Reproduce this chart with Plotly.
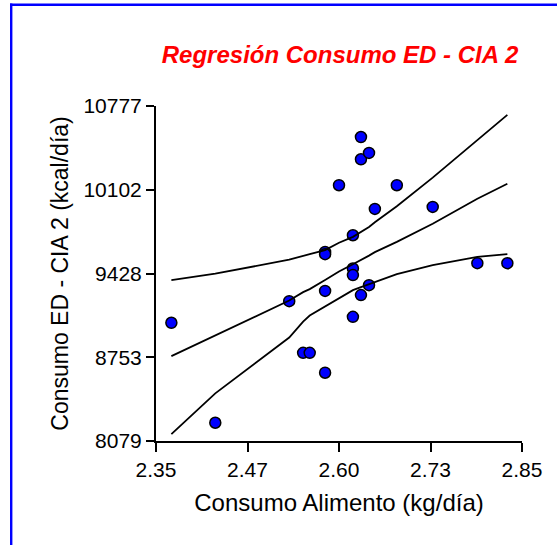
import plotly.graph_objects as go

# Data points
consumo_alimento = [2.371, 2.431, 2.532, 2.551, 2.560, 2.581, 2.581, 2.581, 2.581,
                    2.600, 2.619, 2.619, 2.619, 2.619, 2.630, 2.630, 2.641, 2.630,
                    2.641, 2.649, 2.679, 2.728, 2.789, 2.830]
consumo_ed = [9031, 8226, 9205, 8789, 8789, 8629, 9288, 9602, 9584,
              10139, 9736, 9469, 9415, 9079, 10527, 10348, 10399, 9254,
              9334, 9948, 10139, 9964, 9511, 9511]

# Regression line and confidence bands
line_x = [2.371, 2.431, 2.532, 2.551, 2.560, 2.581, 2.600, 2.619, 2.630,
          2.641, 2.649, 2.679, 2.728, 2.789, 2.830]
upper_band = [9375, 9427, 9539, 9572, 9584, 9616, 9676, 9723, 9761,
              9803, 9841, 9970, 10200, 10501, 10706]
regression = [8763, 8928, 9210, 9278, 9302, 9375, 9444, 9503, 9535,
              9572, 9600, 9683, 9829, 10030, 10151]
lower_band = [8135, 8463, 8912, 9041, 9089, 9160, 9226, 9294, 9318,
              9342, 9358, 9423, 9495, 9562, 9584]

x_tickvals = [2.35, 2.475, 2.60, 2.725, 2.85]
x_ticktext = ["2.35", "2.47", "2.60", "2.73", "2.85"]
y_tickvals = [8079, 8753.5, 9428, 10102.5, 10777]
y_ticktext = ["8079", "8753", "9428", "10102", "10777"]

title_text = "Regresión Consumo ED - CIA 2"
x_title = "Consumo Alimento (kg/día)"
y_title = "Consumo ED - CIA 2 (kcal/día)"

FONT = "Arial, Liberation Sans, sans-serif"
W, H = 557, 545
L, R, T, B = 156, 35, 106, 104
PW, PH = W - L - R, H - T - B

fig = go.Figure()
fig.add_trace(go.Scatter(
    x=consumo_alimento, y=consumo_ed, mode="markers",
    marker=dict(size=11, color="#0000FF", line=dict(color="black", width=1.5)),
    showlegend=False, cliponaxis=False))
for ys in (upper_band, regression, lower_band):
    fig.add_trace(go.Scatter(x=line_x, y=ys, mode="lines",
                             line=dict(color="black", width=1.8),
                             showlegend=False))

def px_x(p):
    return (p - L) / PW

def px_y(p):
    return (H - B - p) / PH

# blue frame (only left and top edges visible)
fig.add_shape(type="line", xref="paper", yref="paper",
              x0=px_x(11.2), x1=px_x(11.2), y0=px_y(560), y1=px_y(3.6),
              line=dict(color="#0000FF", width=2.4))
fig.add_shape(type="line", xref="paper", yref="paper",
              x0=px_x(10), x1=px_x(570), y0=px_y(4.8), y1=px_y(4.8),
              line=dict(color="#0000FF", width=2.4))

fig.update_layout(
    width=W, height=H,
    margin=dict(l=L, r=R, t=T, b=B),
    paper_bgcolor="white", plot_bgcolor="white",
    font=dict(family=FONT, color="black"),
    title=dict(text="<b><i>" + title_text + "</i></b>",
               font=dict(family=FONT, size=24, color="#FF0000"),
               x=340 / W, xanchor="center",
               y=1 - 55 / H, yanchor="middle"),
)
fig.update_xaxes(range=[2.35, 2.85], tickvals=x_tickvals, ticktext=x_ticktext,
                 showgrid=False, zeroline=False, showline=True,
                 linecolor="black", linewidth=2, ticks="outside",
                 ticklen=9, tickwidth=2, tickcolor="black",
                 tickfont=dict(size=21, family=FONT),
                 title=dict(text=x_title, font=dict(size=24, family=FONT), standoff=14))
fig.update_yaxes(range=[8079, 10777], tickvals=y_tickvals, ticktext=y_ticktext,
                 showgrid=False, zeroline=False, showline=True,
                 linecolor="black", linewidth=2, ticks="outside",
                 ticklen=8, tickwidth=2, tickcolor="black",
                 tickfont=dict(size=21, family=FONT),
                 title=dict(text=y_title, font=dict(size=23, family=FONT), standoff=8))

fig.write_html("out.html", config={"displayModeBar": False},
               post_script="document.body.style.margin='0';")
